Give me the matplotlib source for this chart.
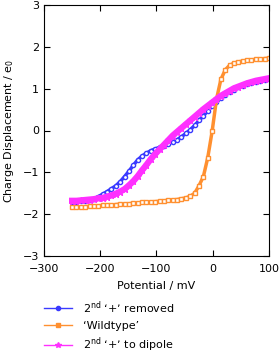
import numpy as np
import matplotlib
matplotlib.use("Agg")
import matplotlib.pyplot as plt
from matplotlib.lines import Line2D

# potential grid (mV), 46 points from -250 to 100
potential = np.linspace(-250, 100, 46)

removed = [-1.70, -1.70, -1.69, -1.68, -1.66, -1.63, -1.58, -1.52, -1.46, -1.39,
           -1.32, -1.22, -1.10, -0.97, -0.83, -0.70, -0.61, -0.54, -0.48, -0.44,
           -0.40, -0.36, -0.32, -0.27, -0.22, -0.15, -0.07, 0.02, 0.12, 0.24,
           0.35, 0.47, 0.58, 0.68, 0.77, 0.85, 0.92, 0.98, 1.03, 1.07,
           1.11, 1.14, 1.17, 1.19, 1.21, 1.23]

wildtype = [-1.84, -1.83, -1.83, -1.82, -1.81, -1.81, -1.80, -1.79, -1.79, -1.78,
            -1.77, -1.76, -1.76, -1.75, -1.74, -1.73, -1.72, -1.72, -1.71, -1.70,
            -1.69, -1.68, -1.67, -1.66, -1.65, -1.63, -1.61, -1.57, -1.50, -1.32,
            -1.10, -0.65, -0.02, 0.75, 1.22, 1.45, 1.56, 1.61, 1.64, 1.66,
            1.68, 1.69, 1.70, 1.71, 1.72, 1.73]

dipole = [-1.68, -1.68, -1.67, -1.66, -1.65, -1.64, -1.62, -1.61, -1.58, -1.55,
          -1.51, -1.46, -1.40, -1.31, -1.21, -1.09, -0.95, -0.82, -0.68, -0.56,
          -0.45, -0.34, -0.23, -0.12, -0.03, 0.06, 0.15, 0.24, 0.33, 0.42,
          0.51, 0.59, 0.67, 0.75, 0.83, 0.89, 0.95, 1.01, 1.05, 1.09,
          1.13, 1.16, 1.19, 1.21, 1.23, 1.25]

labels = ["2$^{\\mathrm{nd}}$ \u2018+\u2019 removed", "\u2018Wildtype\u2019",
          "2$^{\\mathrm{nd}}$ \u2018+\u2019 to dipole"]
colors = ["#3a3aff", "#ff9030", "#ff30ff"]

plt.rcParams["font.size"] = 8

fig = plt.figure(figsize=(2.79, 3.54), dpi=100)
ax = fig.add_axes([44 / 279, 1 - 256 / 354, 225 / 279, 251 / 354])

ax.plot(potential, removed, color=colors[0], lw=2.5, marker="o", ms=3,
        mfc="white", mec=colors[0], mew=1)
ax.plot(potential, wildtype, color=colors[1], lw=2.5, marker="s", ms=3,
        mfc="white", mec=colors[1], mew=1)
ax.plot(potential, dipole, color=colors[2], lw=4.5, marker="*", ms=4.5,
        mfc=colors[2], mec=colors[2])

ax.set_xlim(-300, 100)
ax.set_ylim(-3, 3)
ax.set_xticks([-300, -200, -100, 0, 100])
ax.set_yticks([-3, -2, -1, 0, 1, 2, 3])
ax.tick_params(direction="in", top=True, right=True, length=4, width=0.8)
ax.tick_params(axis="x", pad=6)
ax.set_xlabel("Potential / mV", labelpad=5)
ax.set_ylabel("Charge Displacement / e$_0$", labelpad=5)

handles = [
    Line2D([], [], color=colors[0], lw=1, marker="o", ms=3),
    Line2D([], [], color=colors[1], lw=1, marker="s", ms=3),
    Line2D([], [], color=colors[2], lw=1, marker="*", ms=4),
]
fig.legend(handles, labels, loc="upper left", bbox_to_anchor=(44 / 279, 1 - 299 / 354),
           frameon=False, borderpad=0, borderaxespad=0, handlelength=2.5,
           handletextpad=1.0, labelspacing=0.45)

fig.savefig("out.png", dpi=100)
